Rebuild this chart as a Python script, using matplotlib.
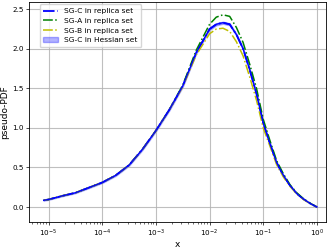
import numpy as np
import matplotlib
matplotlib.use("Agg")
import matplotlib.pyplot as plt

# ── data (x in log10, y = pseudo-PDF) ────────────────────────────────
log_x = [-5.09, -5.0, -4.75, -4.5, -4.25, -4.0, -3.75, -3.5, -3.25, -3.0,
         -2.75, -2.5, -2.25, -2.0, -1.875, -1.75, -1.625, -1.5, -1.375,
         -1.25, -1.125, -1.0, -0.875, -0.75, -0.625, -0.5, -0.375, -0.25,
         -0.125, 0.0]

sg_c = [0.085, 0.095, 0.14, 0.18, 0.245, 0.31, 0.40, 0.53, 0.73, 0.966,
        1.23, 1.53, 1.95, 2.25, 2.31, 2.33, 2.31, 2.18, 2.00,
        1.73, 1.43, 1.06, 0.80, 0.56, 0.40, 0.27, 0.17, 0.10,
        0.045, 0.0]

sg_a = [0.085, 0.095, 0.14, 0.18, 0.245, 0.31, 0.40, 0.53, 0.73, 0.966,
        1.23, 1.54, 1.98, 2.31, 2.40, 2.43, 2.41, 2.27, 2.08,
        1.80, 1.50, 1.11, 0.84, 0.585, 0.42, 0.28, 0.18, 0.105,
        0.048, 0.0]

sg_b = [0.085, 0.095, 0.14, 0.18, 0.245, 0.31, 0.40, 0.53, 0.73, 0.966,
        1.23, 1.52, 1.92, 2.19, 2.25, 2.26, 2.22, 2.09, 1.91,
        1.64, 1.35, 1.00, 0.77, 0.535, 0.38, 0.26, 0.165, 0.095,
        0.042, 0.0]

hess_err = [0.004, 0.004, 0.005, 0.005, 0.006, 0.006, 0.007, 0.008, 0.008, 0.009,
            0.010, 0.011, 0.012, 0.013, 0.013, 0.013, 0.013, 0.012, 0.012,
            0.011, 0.010, 0.009, 0.008, 0.007, 0.006, 0.005, 0.004, 0.003,
            0.002, 0.0]

x = 10.0 ** np.array(log_x)
c = np.array(sg_c)
err = np.array(hess_err)

fig = plt.figure(figsize=(3.32, 2.49), dpi=100)
ax = fig.add_axes([0.088, 0.107, 0.894, 0.886])

ax.plot(x, c, "-.", color="blue", lw=1.3, label="SG-C in replica set")
ax.plot(x, sg_a, "-.", color="green", lw=1.1, label="SG-A in replica set")
ax.plot(x, sg_b, "-.", color="y", lw=1.1, label="SG-B in replica set")
ax.fill_between(x, c - err, c + err, color="blue", alpha=0.3,
                lw=1.0, label="SG-C in Hessian set")
ax.plot(x, c, "-", color="blue", lw=1.0)

ax.set_xscale("log")
ax.set_xlim(10 ** -5.36, 10 ** 0.17)
ax.set_ylim(-0.194, 2.595)
ax.set_yticks([0.0, 0.5, 1.0, 1.5, 2.0, 2.5])
ax.grid(True, which="major", color="#b0b0b0", lw=0.8, alpha=0.8)
ax.tick_params(labelsize=5.2, length=2.0, width=0.5, pad=1.8)
ax.tick_params(which="minor", length=1.2, width=0.4)
for s in ax.spines.values():
    s.set_linewidth(0.6)
ax.set_xlabel("x", fontsize=6.5, labelpad=1.0)
ax.set_ylabel("pseudo-PDF", fontsize=6.5, labelpad=2.5)
ax.legend(loc="upper left", bbox_to_anchor=(0.035, 0.988), borderaxespad=0,
          fontsize=5.4, handlelength=2.0, borderpad=0.5,
          labelspacing=0.45, handletextpad=0.8, framealpha=0.8)

fig.savefig("out.png", dpi=100)
